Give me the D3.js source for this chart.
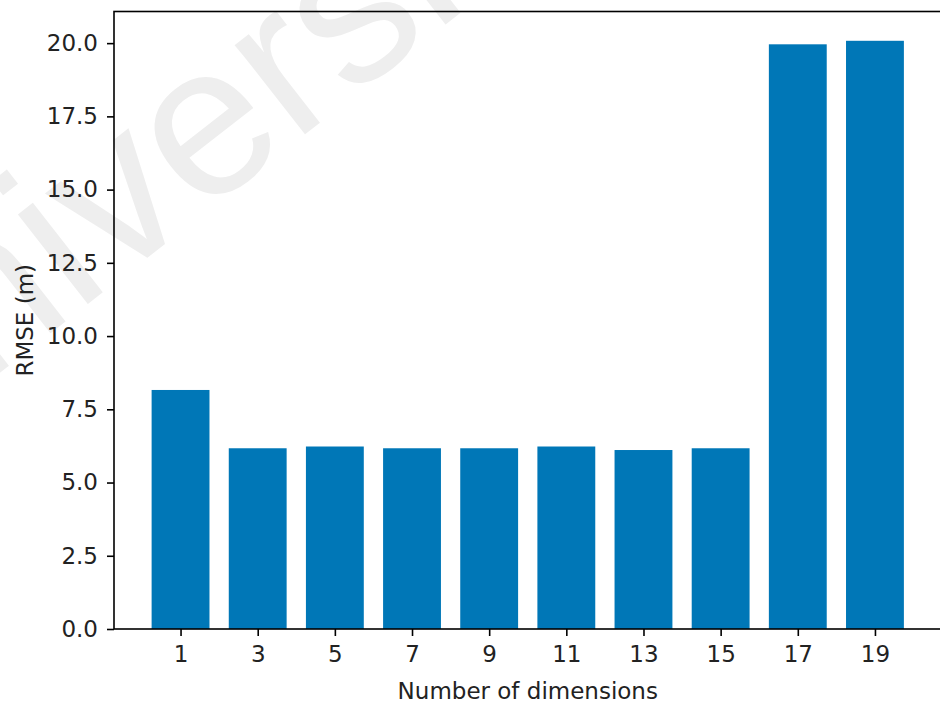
<!DOCTYPE html>
<html>
<head>
<meta charset="utf-8">
<script src="https://cdn.jsdelivr.net/npm/d3@7"></script>
<style>
  body { margin: 0; background: #fff; }
  svg { display: block; font-family: "DejaVu Sans", sans-serif; }
</style>
</head>
<body>
<div id="chart"></div>
<script>
// Number of dimensions and the RMSE read for each
const dims = [1, 3, 5, 7, 9, 11, 13, 15, 17, 19];
const rmse = [8.16, 6.17, 6.23, 6.17, 6.17, 6.23, 6.11, 6.17, 19.96, 20.08];
const yTicks = [0, 2.5, 5, 7.5, 10, 12.5, 15, 17.5, 20];

// Chart dimensions (the right spine falls just past the frame, as in the picture)
const width = 940;
const height = 704;
const marginTop = 11.5;
const marginLeft = 114;
const plotRight = 941.5;
const plotBottom = 629;
const fontSize = 23;

const x = d3.scaleLinear()
  .domain([-0.725, 20.725])
  .range([marginLeft, plotRight]);

const y = d3.scaleLinear()
  .domain([0, 21.08])
  .range([plotBottom, marginTop]);

const svg = d3.select("#chart").append("svg")
  .attr("width", width)
  .attr("height", height)
  .attr("viewBox", [0, 0, width, height]);

// Faint watermark behind the plot
svg.append("text")
  .attr("transform", "translate(-140,482) rotate(-38)")
  .attr("font-family", "Liberation Sans")
  .attr("font-size", 215)
  .attr("fill", "#eeeeee")
  .text("University");

// Bars, 1.5 units wide
svg.append("g")
  .selectAll("rect")
  .data(dims)
  .join("rect")
  .attr("x", (d) => x(d - 0.75))
  .attr("width", x(1.5) - x(0))
  .attr("y", (d, i) => y(rmse[i]))
  .attr("height", (d, i) => y(0) - y(rmse[i]))
  .attr("fill", "#0077b7");

// x axis
svg.append("g")
  .attr("transform", `translate(0,${plotBottom})`)
  .call(d3.axisBottom(x).tickValues(dims).tickFormat(d3.format("d")).tickSize(7).tickPadding(10).tickSizeOuter(0))
  .call(g => g.select(".domain").remove())
  .call(g => g.selectAll(".tick line").attr("stroke", "#000").attr("stroke-width", 1.6))
  .call(g => g.selectAll(".tick text").attr("fill", "#222").attr("font-size", fontSize).attr("font-family", "DejaVu Sans"));

// y axis
svg.append("g")
  .attr("transform", `translate(${marginLeft},0)`)
  .call(d3.axisLeft(y).tickValues(yTicks).tickFormat(d3.format(".1f")).tickSize(7).tickPadding(9).tickSizeOuter(0))
  .call(g => g.select(".domain").remove())
  .call(g => g.selectAll(".tick line").attr("stroke", "#000").attr("stroke-width", 1.6))
  .call(g => g.selectAll(".tick text").attr("fill", "#222").attr("font-size", fontSize).attr("font-family", "DejaVu Sans"));

// Axes frame
svg.append("rect")
  .attr("x", marginLeft)
  .attr("y", marginTop)
  .attr("width", plotRight - marginLeft)
  .attr("height", plotBottom - marginTop)
  .attr("fill", "none")
  .attr("stroke", "#000")
  .attr("stroke-width", 1.6);

// Axis labels
svg.append("text")
  .attr("x", (marginLeft + plotRight) / 2)
  .attr("y", 699)
  .attr("text-anchor", "middle")
  .attr("font-size", fontSize)
  .attr("fill", "#222")
  .text("Number of dimensions");

svg.append("text")
  .attr("transform", `translate(33,${(marginTop + plotBottom) / 2}) rotate(-90)`)
  .attr("text-anchor", "middle")
  .attr("font-size", fontSize)
  .attr("fill", "#222")
  .text("RMSE (m)");
</script>
</body>
</html>
